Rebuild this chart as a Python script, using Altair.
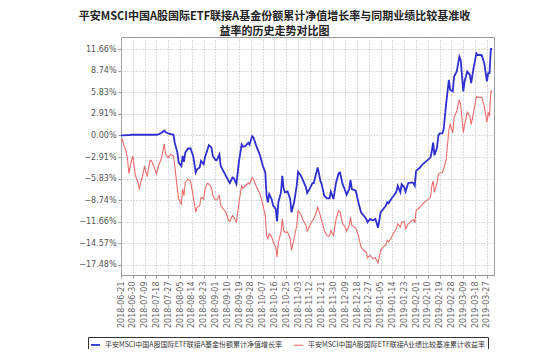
import altair as alt
import pandas as pd

title_lines = ["平安MSCI中国A股国际ETF联接A基金份额累计净值增长率与同期业绩比较基准收",
               "益率的历史走势对比图"]

series_names = ["平安MSCI中国A股国际ETF联接A基金份额累计净值增长率",
                "平安MSCI中国A股国际ETF联接A业绩比较基准累计收益率"]
series_colors = ["#2f2fd0", "#ee6b6b"]
series_widths = [1.8, 1.1]

dates = [
    "2018-06-21", "2018-06-22", "2018-06-23", "2018-06-25", "2018-06-26", "2018-06-27", "2018-06-29", "2018-06-30",
    "2018-07-01", "2018-07-02", "2018-07-04", "2018-07-05", "2018-07-06", "2018-07-07", "2018-07-09", "2018-07-10",
    "2018-07-11", "2018-07-13", "2018-07-14", "2018-07-16", "2018-07-18", "2018-07-20", "2018-07-22", "2018-07-24",
    "2018-07-25", "2018-07-27", "2018-07-29", "2018-07-31", "2018-08-01", "2018-08-03", "2018-08-04", "2018-08-06",
    "2018-08-07", "2018-08-08", "2018-08-09", "2018-08-11", "2018-08-13", "2018-08-15", "2018-08-17", "2018-08-18",
    "2018-08-20", "2018-08-21", "2018-08-23", "2018-08-24", "2018-08-26", "2018-08-27", "2018-08-29", "2018-08-30",
    "2018-09-01", "2018-09-02", "2018-09-04", "2018-09-05", "2018-09-07", "2018-09-09", "2018-09-11", "2018-09-12",
    "2018-09-14", "2018-09-15", "2018-09-17", "2018-09-19", "2018-09-21", "2018-09-22", "2018-09-24", "2018-09-26",
    "2018-09-27", "2018-09-29", "2018-09-30", "2018-10-02", "2018-10-05", "2018-10-07", "2018-10-09", "2018-10-10",
    "2018-10-11", "2018-10-12", "2018-10-14", "2018-10-15", "2018-10-17", "2018-10-18", "2018-10-19", "2018-10-21",
    "2018-10-22", "2018-10-23", "2018-10-24", "2018-10-26", "2018-10-28", "2018-10-29", "2018-10-31", "2018-11-02",
    "2018-11-03", "2018-11-05", "2018-11-07", "2018-11-09", "2018-11-10", "2018-11-12", "2018-11-14", "2018-11-15",
    "2018-11-17", "2018-11-18", "2018-11-20", "2018-11-21", "2018-11-23", "2018-11-25", "2018-11-27", "2018-11-28",
    "2018-11-30", "2018-12-02", "2018-12-04", "2018-12-05", "2018-12-07", "2018-12-09", "2018-12-10", "2018-12-12",
    "2018-12-13", "2018-12-14", "2018-12-17", "2018-12-19", "2018-12-21", "2018-12-23", "2018-12-25", "2018-12-26",
    "2018-12-28", "2018-12-30", "2019-01-01", "2019-01-03", "2019-01-05", "2019-01-07", "2019-01-09", "2019-01-10",
    "2019-01-11", "2019-01-13", "2019-01-15", "2019-01-17", "2019-01-18", "2019-01-20", "2019-01-21", "2019-01-23",
    "2019-01-24", "2019-01-26", "2019-01-29", "2019-01-30", "2019-01-31", "2019-02-01", "2019-02-04", "2019-02-06",
    "2019-02-09", "2019-02-12", "2019-02-13", "2019-02-14", "2019-02-15", "2019-02-17", "2019-02-18", "2019-02-19",
    "2019-02-21", "2019-02-22", "2019-02-24", "2019-02-26", "2019-02-27", "2019-03-01", "2019-03-02", "2019-03-04",
    "2019-03-06", "2019-03-07", "2019-03-09", "2019-03-10", "2019-03-12", "2019-03-14", "2019-03-15", "2019-03-17",
    "2019-03-19", "2019-03-20", "2019-03-23", "2019-03-25", "2019-03-27", "2019-03-28", "2019-03-29", "2019-03-30",
    "2019-03-31",
]

fund_growth = [
    0.00, 0.00, 0.00, 0.04, 0.04, 0.04, 0.09, 0.09,
    0.09, 0.09, 0.09, 0.09, 0.09, 0.09, 0.09, 0.09,
    0.09, 0.09, 0.09, 0.09, 0.09, 0.18, 0.36, 0.67,
    0.45, 0.27, 0.18, 0.09, -0.98, -2.32, -3.66, -4.11,
    -2.77, -3.57, -2.32, -1.79, -1.74, -2.77, -5.00, -4.56,
    -4.33, -3.44, -3.89, -2.99, -1.88, -1.30, -1.65, -2.77,
    -3.31, -3.35, -2.55, -4.11, -4.78, -5.45, -6.12, -6.43,
    -5.67, -5.76, -6.57, -3.44, -1.21, -1.52, -1.43, -0.98,
    -1.25, -0.09, -0.27, -1.34, -2.68, -4.02, -5.00, -8.13,
    -9.02, -7.91, -8.67, -9.47, -9.92, -11.61, -9.02, -7.68,
    -5.45, -7.15, -7.68, -7.55, -8.58, -10.36, -9.02, -6.79,
    -4.91, -5.36, -6.12, -7.01, -7.77, -7.15, -6.43, -6.43,
    -5.00, -4.33, -6.12, -6.57, -8.13, -8.49, -8.49, -7.59,
    -8.58, -6.34, -5.09, -5.00, -6.57, -7.46, -8.00, -7.24,
    -5.99, -7.24, -7.46, -9.02, -10.36, -10.81, -11.26, -11.70,
    -11.26, -11.48, -11.26, -12.46, -10.36, -9.92, -9.47, -9.02,
    -9.16, -8.58, -8.13, -7.59, -6.79, -7.68, -6.57, -7.01,
    -7.59, -6.43, -6.34, -6.43, -6.79, -4.78, -4.33, -3.89,
    -3.44, -2.99, -2.10, -0.98, -2.68, -1.65, 0.00, 0.27,
    0.27, 0.80, 4.38, 7.50, 6.16, 5.94, 7.95, 8.62,
    10.63, 10.18, 5.94, 7.28, 8.62, 8.17, 7.06, 9.29,
    11.08, 10.85, 10.85, 9.74, 7.28, 8.40, 8.40, 11.66,
    11.66,
]

benchmark = [
    -0.76, -0.54, -1.21, -2.23, -3.22, -5.14, -3.44, -2.77,
    -4.11, -5.45, -6.34, -7.33, -6.34, -5.81, -4.11, -5.00,
    -5.45, -3.44, -3.35, -4.11, -5.23, -3.89, -2.99, -1.12,
    -2.55, -2.99, -2.55, -2.77, -4.11, -7.24, -8.58, -9.25,
    -7.24, -8.13, -6.34, -5.90, -6.12, -8.13, -10.36, -9.69,
    -9.47, -8.35, -8.58, -7.24, -6.43, -6.57, -7.01, -8.13,
    -8.67, -8.71, -8.13, -9.47, -9.92, -10.36, -11.48, -11.61,
    -10.81, -11.03, -11.70, -9.02, -6.79, -7.15, -6.79, -6.43,
    -6.57, -5.67, -5.90, -6.79, -7.91, -9.25, -10.81, -13.49,
    -13.94, -13.27, -13.71, -14.38, -15.05, -16.39, -14.38, -13.04,
    -11.26, -12.82, -13.04, -13.04, -13.94, -15.50, -13.94, -12.15,
    -10.14, -10.59, -11.48, -12.15, -12.91, -12.15, -11.48, -11.26,
    -10.36, -9.69, -10.81, -11.48, -12.82, -13.49, -13.58, -12.82,
    -13.49, -11.26, -10.14, -10.27, -11.93, -12.37, -12.95, -12.15,
    -11.03, -12.15, -12.51, -13.49, -15.05, -15.50, -15.72, -16.53,
    -16.17, -16.62, -16.53, -17.20, -15.50, -15.05, -14.74, -14.16,
    -14.38, -13.85, -13.13, -12.60, -11.93, -12.37, -11.70, -11.61,
    -12.60, -11.93, -11.48, -11.35, -11.79, -10.14, -9.69, -9.25,
    -8.80, -8.35, -6.79, -6.12, -7.68, -6.34, -5.23, -5.09,
    -5.00, -4.56, -3.22, 0.80, 1.47, 0.36, 2.37, 3.26,
    4.82, 4.15, 0.36, 1.47, 3.13, 2.59, 1.47, 3.26,
    5.27, 5.14, 5.14, 3.93, 1.79, 3.04, 2.68, 5.94,
    5.94,
]

tick_dates = [
    "2018-06-21", "2018-06-30", "2018-07-09", "2018-07-18", "2018-07-27", "2018-08-05", "2018-08-14", "2018-08-23",
    "2018-09-01", "2018-09-10", "2018-09-19", "2018-09-28", "2018-10-07", "2018-10-16", "2018-10-25", "2018-11-03",
    "2018-11-12", "2018-11-21", "2018-11-30", "2018-12-09", "2018-12-18", "2018-12-27", "2019-01-05", "2019-01-14",
    "2019-01-23", "2019-02-01", "2019-02-10", "2019-02-19", "2019-02-28", "2019-03-09", "2019-03-18", "2019-03-27",
]

y_ticks = [11.66, 8.74, 5.83, 2.91, 0.00, -2.91, -5.83, -8.74, -11.66, -14.57, -17.48]
y_domain = [-18.83, 13.28]


def to_dt(s, hours=0):
    y, m, d = (int(p) for p in s.split("-"))
    return alt.DateTime(year=y, month=m, date=d, hours=hours)


df = pd.DataFrame({
    "date": [d + "T00:00:00" for d in dates],
    series_names[0]: fund_growth,
    series_names[1]: benchmark,
})
long = df.melt("date", var_name="series", value_name="value")

font = "Noto Sans CJK SC"

chart = alt.Chart(long).mark_line().encode(
    x=alt.X(
        "date:T",
        scale=alt.Scale(domain=[to_dt("2018-06-21"), to_dt("2019-04-01", hours=10)]),
        axis=alt.Axis(
            title=None,
            values=[to_dt(t) for t in tick_dates],
            format="%Y-%m-%d",
            labelAngle=270,
            labelFontSize=8,
            labelColor="#666",
            labelFont="DejaVu Sans",
            labelPadding=3,
            tickSize=3,
            tickColor="#999",
            domain=False,
            grid=True,
            gridDash=[1, 2],
            gridColor="#b8b8b8",
            labelOverlap=False,
        ),
    ),
    y=alt.Y(
        "value:Q",
        scale=alt.Scale(domain=y_domain, nice=False, zero=False),
        axis=alt.Axis(
            title=None,
            values=y_ticks,
            labelExpr="format(datum.value, '.2f') + '%'",
            labelFontSize=8,
            labelColor="#555",
            labelFont="DejaVu Sans",
            labelPadding=2,
            tickSize=3,
            tickColor="#999",
            domain=False,
            grid=True,
            gridDash=[1, 2],
            gridColor="#b8b8b8",
        ),
    ),
    color=alt.Color(
        "series:N",
        scale=alt.Scale(domain=series_names, range=series_colors),
        legend=alt.Legend(
            title=None,
            orient="none",
            legendX=-33,
            legendY=300,
            direction="horizontal",
            symbolType="stroke",
            symbolSize=80,
            symbolStrokeWidth=1.5,
            labelFont=font,
            labelFontSize=7,
            labelColor="#333",
            labelLimit=400,
            columnPadding=8,
            padding=2,
            strokeColor="#333",
        ),
    ),
    strokeWidth=alt.StrokeWidth(
        "series:N",
        scale=alt.Scale(domain=series_names, range=series_widths),
        legend=None,
    ),
).properties(
    width=373,
    height=238,
    autosize=alt.AutoSizeParams(type="none"),
    padding={"left": 113, "top": 29, "right": 48, "bottom": 74},
    title=alt.TitleParams(
        text=title_lines,
        font=font,
        fontSize=11,
        fontWeight="bold",
        color="#222",
        anchor="middle",
        dx=-33,
        offset=0,
        lineHeight=15.5,
    ),
).configure_view(stroke="#999")

chart.save("out.html", embed_options={"renderer": "svg", "actions": False})
